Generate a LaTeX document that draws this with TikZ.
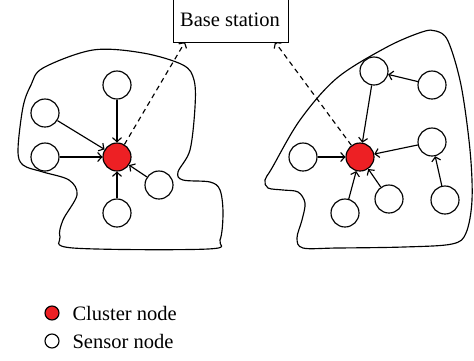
\documentclass[tikz,border=0pt]{standalone}
\usepackage{fontspec}
\setmainfont{Liberation Serif}
\usetikzlibrary{arrows.meta}
\definecolor{clred}{RGB}{237,32,36}
\begin{document}
\begin{tikzpicture}[x=1pt,y=-1pt,
  every path/.style={line width=1.15pt},
  sensor/.style={circle,draw,fill=white,minimum size=28pt,inner sep=0pt},
  cluster/.style={circle,draw,fill=clred,minimum size=28pt,inner sep=0pt},
  link/.style={-{Straight Barb[length=4pt,width=9pt]}},
  dlink/.style={-{Straight Barb[length=4pt,width=9pt]},dashed,dash pattern=on 5pt off 4pt},
  lbl/.style={font=\fontsize{20.5}{23}\selectfont,inner sep=0pt}]
\useasboundingbox (0,0) rectangle (474,360);
% blobs
\draw plot[smooth cycle,tension=0.55] coordinates {(43,68) (93,50) (143,53) (183,65) (194,80) (195,107) (190,150) (178,172) (183,180) (210,182) (220,190) (223,213) (220,240) (208,249) (73,248) (60,237) (63,220) (77,195) (69,180) (43,172) (23,165) (18,150) (23,107) (31,85)};
\draw plot[smooth cycle,tension=0.55] coordinates {(272,168) (300,120) (337,78) (387,47) (422,32) (436,31) (448,41) (461,85) (470,150) (472,200) (466,233) (452,244) (404,247) (337,248) (303,248) (297,238) (302,220) (305,203) (298,192) (283,190) (268,188) (265,180)};
% base station
\node[draw,fill=white,minimum width=115pt,minimum height=43pt,inner sep=0pt,anchor=north west] (bs) at (173,-1) {};
\node[lbl] (bst) at (230,20) {Base station};
\coordinate (bsl) at (185,42);
\coordinate (bsr) at (275,42);
% left cluster
\node[cluster] (c1) at (117,157) {};
\node[sensor] (a1) at (117,85) {};
\node[sensor] (a2) at (45,113) {};
\node[sensor] (a3) at (45,157) {};
\node[sensor] (a4) at (117,213) {};
\node[sensor] (a5) at (159,185) {};
\foreach \s in {a1,a2,a3,a4,a5} \draw[link] (\s) -- (c1);
\draw[dlink] (c1) -- (bsl);
% right cluster
\node[cluster] (c2) at (360,157) {};
\node[sensor] (b1) at (303,157) {};
\node[sensor] (b2) at (374,71) {};
\node[sensor] (b3) at (432,85) {};
\node[sensor] (b4) at (432,142) {};
\node[sensor] (b5) at (445,200) {};
\node[sensor] (b6) at (389,199) {};
\node[sensor] (b7) at (345,213) {};
\foreach \s in {b1,b2,b4,b6,b7} \draw[link] (\s) -- (c2);
\draw[link] (b3) -- (b2);
\draw[link] (b5) -- (b4);
\draw[dlink] (c2) -- (bsr);
% legend
\node[circle,draw,fill=clred,minimum size=14pt,inner sep=0pt] (lc) at (52,313) {};
\node[lbl,anchor=west] (lct) at (72,313) {Cluster node};
\node[circle,draw,fill=white,minimum size=14pt,inner sep=0pt] (ls) at (52,341) {};
\node[lbl,anchor=west] (lst) at (72,341) {Sensor node};
\end{tikzpicture}
\end{document}
